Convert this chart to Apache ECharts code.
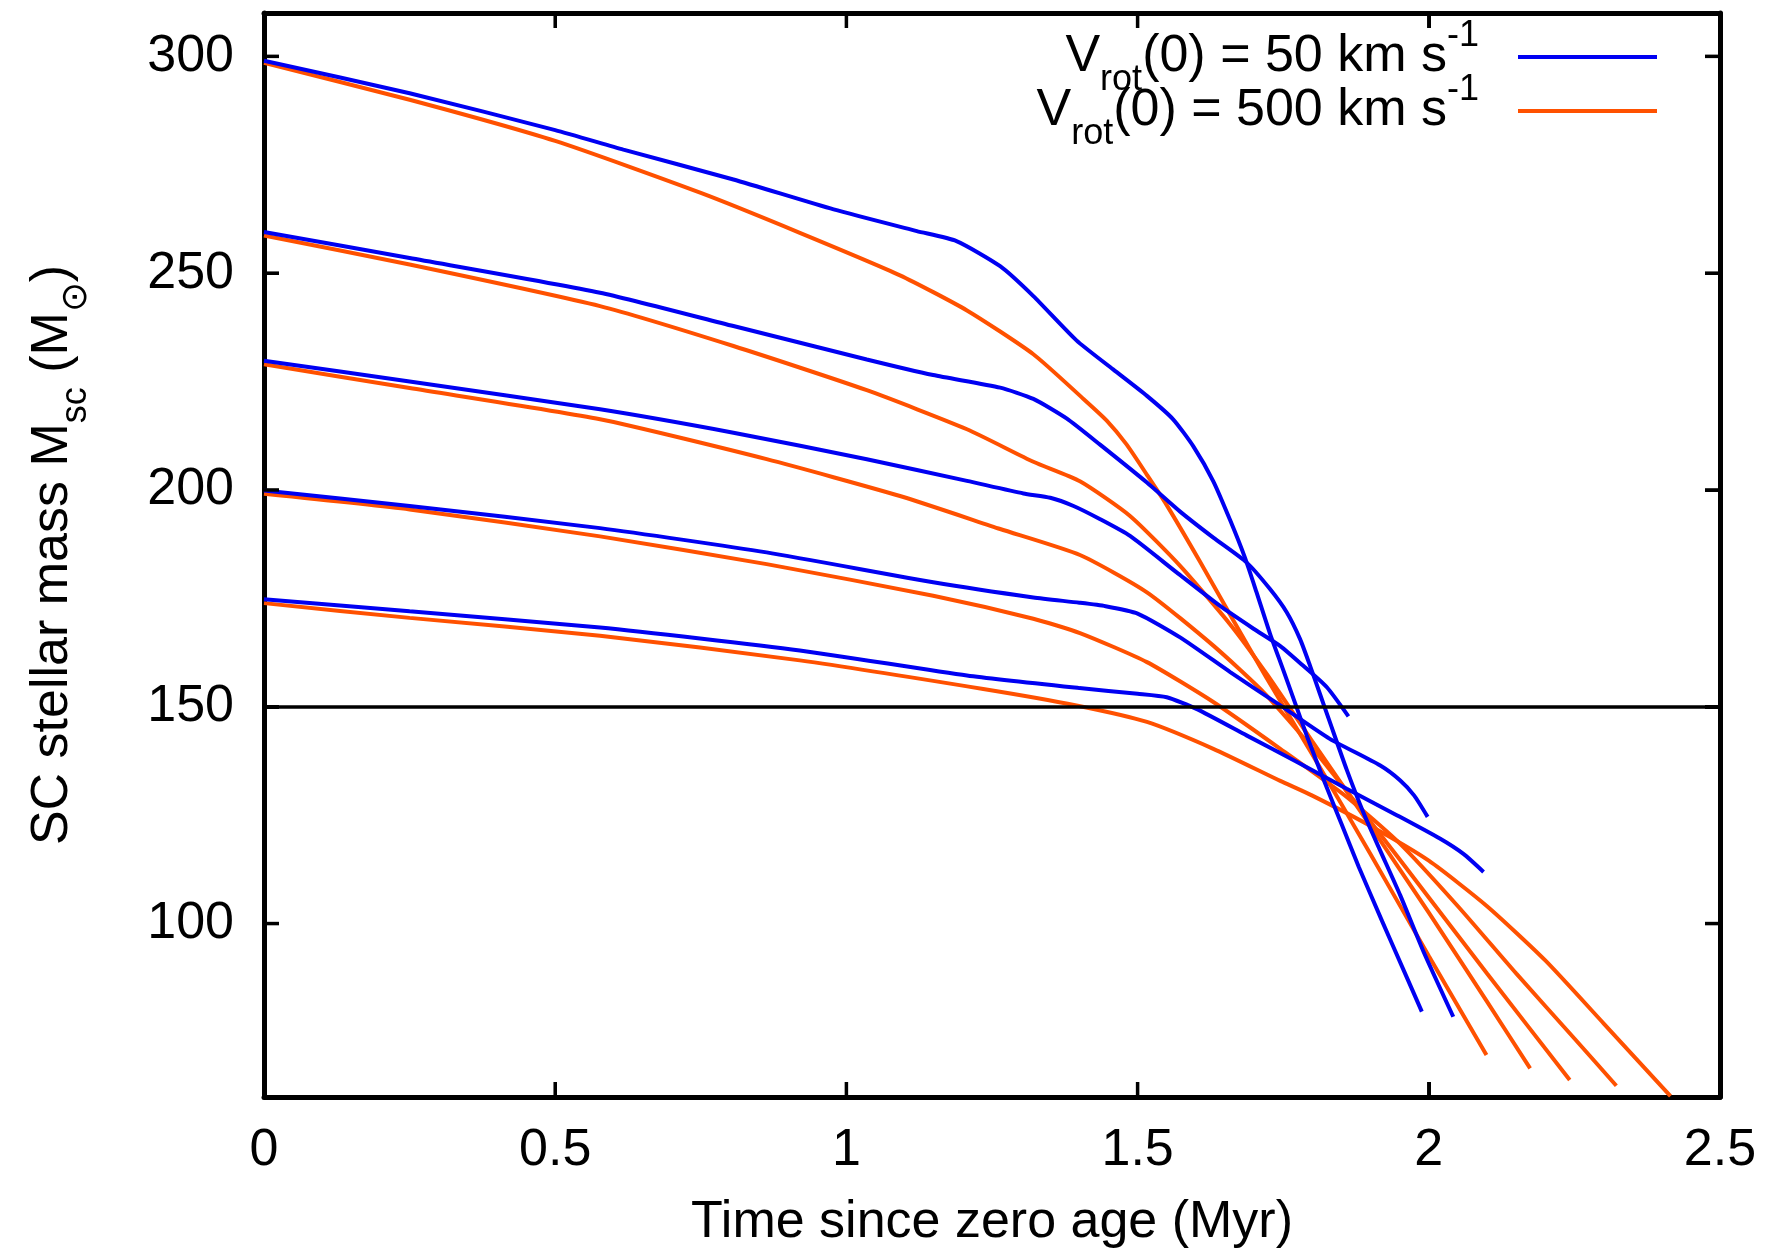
<!DOCTYPE html>
<html><head><meta charset="utf-8">
<script src="https://cdn.jsdelivr.net/npm/echarts@6/dist/echarts.min.js"></script>
<style>html,body{margin:0;padding:0;background:#fff}#c{width:1770px;height:1259px}</style>
</head><body><div id="c"></div>
<script>
// Axis ranges and tick values
const xRange = [0, 2.5];
const yRange = [60, 310];
const xTicks = [0, 0.5, 1, 1.5, 2, 2.5];
const yTicks = [100, 150, 200, 250, 300];
const limitMass = 150;

// V_rot(0) = 50 km/s  (blue) : [time (Myr), mass (Msun)]
const b300 = [[0,299],[0.25,291.5],[0.5,283],[0.617,278.5],[0.806,271.6],[0.978,264.7],[1.121,259.7],[1.189,257.4],[1.264,251.6],[1.321,244.7],[1.395,234.5],[1.458,227.8],[1.516,221.7],[1.561,216.3],[1.596,210],[1.63,202],[1.659,193],[1.684,184.5],[1.704,176.5],[1.727,167],[1.75,158.5],[1.77,151],[1.79,143.5],[1.82,133],[1.85,123],[1.88,113],[1.92,100.5],[1.956,89.5],[1.988,79.7]];
const b260 = [[0,259.5],[0.25,253.5],[0.577,245.5],[0.806,237.8],[1.035,230.1],[1.149,226.5],[1.264,223.6],[1.321,221],[1.378,216.5],[1.435,210.5],[1.516,201.7],[1.573,195],[1.63,189],[1.687,183.3],[1.727,177.2],[1.756,171.8],[1.779,165.6],[1.796,159.5],[1.813,153],[1.83,146.5],[1.859,135.5],[1.888,125.5],[1.916,117],[1.951,106.5],[1.991,93.5],[2.042,78.5]];
const b230 = [[0,229.8],[0.25,225],[0.577,218.6],[0.806,213.2],[1.035,207.1],[1.207,202.1],[1.304,199.2],[1.35,198.2],[1.39,196.3],[1.435,193.3],[1.487,189.4],[1.567,181],[1.641,173.3],[1.699,168],[1.745,164],[1.784,159.5],[1.825,154.5],[1.862,147.8]];
const b200 = [[0,199.9],[0.25,196.3],[0.577,191.2],[0.863,185.6],[1.149,178.7],[1.321,175.2],[1.4,174],[1.445,173.2],[1.5,171.5],[1.573,166],[1.659,158],[1.745,150.3],[1.83,142.6],[1.916,136.5],[1.951,133],[1.975,129.5],[1.998,124.6]];
const b175 = [[0,174.8],[0.25,172],[0.577,168.3],[0.92,163],[1.207,157.2],[1.4,154.3],[1.5,153],[1.55,152.2],[1.601,149.5],[1.687,143.4],[1.773,137.3],[1.859,131.1],[1.945,125],[2.019,119.6],[2.06,116],[2.094,111.9]];

// V_rot(0) = 500 km/s (orange)
const o300 = [[0,298.5],[0.25,290],[0.5,280.5],[0.75,268.5],[0.92,259.3],[1.092,249.5],[1.207,241.4],[1.321,231.3],[1.407,221],[1.447,216],[1.481,210.5],[1.516,203.5],[1.55,196.5],[1.607,183.5],[1.664,170],[1.722,156.5],[1.8,139],[1.9,116],[2.0,92.5],[2.099,69.7]];
const o260 = [[0,258.7],[0.25,252],[0.577,242.4],[0.806,233.2],[1.035,223],[1.207,214],[1.321,206.5],[1.401,202],[1.487,194],[1.573,182.5],[1.659,169],[1.722,157.5],[1.8,142],[1.9,122.5],[2.0,102.5],[2.1,82],[2.174,66.6]];
const o230 = [[0,229],[0.25,223.5],[0.577,216.3],[0.863,207.1],[1.092,198.6],[1.264,191],[1.401,185],[1.516,176.4],[1.63,164.1],[1.716,153.4],[1.8,140.5],[1.9,123.5],[2.0,106],[2.1,88.5],[2.242,63.9]];
const o200 = [[0,199.1],[0.25,195.5],[0.577,189.3],[0.863,182.9],[1.149,175.6],[1.321,170.3],[1.401,167],[1.516,160.3],[1.63,151.1],[1.745,140.3],[1.859,129.2],[1.95,118.5],[2.05,104],[2.15,88.5],[2.25,73.5],[2.322,62.6]];
const o175 = [[0,173.9],[0.25,170.5],[0.577,166.4],[0.92,160.7],[1.235,154.1],[1.395,150.3],[1.516,146.5],[1.63,140.3],[1.745,132.9],[1.8,129.5],[1.9,122.5],[2.0,114.5],[2.1,104],[2.2,91.5],[2.3,77],[2.415,60.2]];

const blueSeries = [b300, b260, b230, b200, b175];
const orangeSeries = [o300, o260, o230, o200, o175];

const FONT = '"Liberation Sans", Arial, Helvetica, sans-serif';
const BLUE = '#0000f2';
const ORANGE = '#ff5100';
const NAME50 = 'v50';
const NAME500 = 'v500';
const FS = 52, FSS = 36;

const rich = {
  m: {fontSize: FS, fontFamily: FONT, color: '#000', lineHeight: 66, verticalAlign: 'middle'},
  s: {fontSize: FSS, fontFamily: FONT, color: '#000', lineHeight: 36, verticalAlign: 'middle', padding: [46, 0, 0, 0]},
  p: {fontSize: FSS, fontFamily: FONT, color: '#000', lineHeight: 36, verticalAlign: 'middle', padding: [0, 34, 42, 0]}
};

function mk(name, data, color) {
  return {
    type: 'line', name: name, data: data, showSymbol: false, symbol: 'none',
    smooth: 0.2, clip: true, animation: false,
    lineStyle: {color: color, width: 4}, itemStyle: {color: color},
    emphasis: {disabled: true}
  };
}

const series = [];
orangeSeries.forEach(d => series.push(mk(NAME500, d, ORANGE)));
blueSeries.forEach(d => series.push(mk(NAME50, d, BLUE)));
series[series.length - 1].markLine = {
  silent: true, symbol: ['none', 'none'], label: {show: false}, animation: false,
  lineStyle: {color: '#000', width: 3.5, type: 'solid'},
  data: [{yAxis: limitMass}]
};

// Inward tick marks as small filled bars, one custom series per frame side
const TL = 15, TW = 3.5;
function tickSeries(name, data, dx, dy) {
  return {
    type: 'custom', name: name, data: data, clip: false, silent: true, z: 100, zlevel: 1,
    encode: {x: 0, y: 1}, animation: false,
    renderItem: function (params, api) {
      const p = api.coord([api.value(0), api.value(1)]);
      let rx, ry, rw, rh;
      if (dx !== 0) { rx = dx > 0 ? p[0] : p[0] - TL; ry = p[1] - TW / 2; rw = TL; rh = TW; }
      else { ry = dy > 0 ? p[1] : p[1] - TL; rx = p[0] - TW / 2; rw = TW; rh = TL; }
      return {type: 'rect', shape: {x: rx, y: ry, width: rw, height: rh}, style: {fill: '#000'}};
    }
  };
}
series.push(tickSeries('tickBottom', xTicks.map(v => [v, yRange[0]]), 0, -TL));
series.push(tickSeries('tickTop', xTicks.map(v => [v, yRange[1]]), 0, TL));
series.push(tickSeries('tickLeft', yTicks.map(v => [xRange[0], v]), TL, 0));
series.push(tickSeries('tickRight', yTicks.map(v => [xRange[1], v]), -TL, 0));

function axisLine() { return {show: true, onZero: false, lineStyle: {color: '#000', width: 5}}; }
function axisTick() { return {show: true, inside: true, length: TL, lineStyle: {color: '#000', width: 3}}; }

function legendFor(name, top, label) {
  return {
    data: [name], right: 113, top: top, orient: 'vertical', align: 'right',
    itemWidth: 139, itemHeight: 4, icon: 'rect', padding: 0, selectedMode: false,
    formatter: () => label,
    textStyle: {fontSize: FS, fontFamily: FONT, color: '#000', rich: rich}
  };
}

const xBase = {type: 'value', min: xRange[0], max: xRange[1], interval: 0.5, splitLine: {show: false}};
const yBase = {type: 'value', min: yRange[0], max: yRange[1], splitLine: {show: false}};

const option = {
  backgroundColor: '#fff',
  animation: false,
  grid: {left: 264, right: 50, top: 13, bottom: 162, containLabel: false},
  legend: [
    legendFor(NAME50, 16, '{m|V}{s|rot}{m|(0) = 50 km s}{p|-1}'),
    legendFor(NAME500, 70, '{m|V}{s|rot}{m|(0) = 500 km s}{p|-1}')
  ],
  xAxis: [
    Object.assign({}, xBase, {position: 'bottom', axisLine: axisLine(), axisTick: axisTick(),
     axisLabel: {fontSize: FS, fontFamily: FONT, color: '#000', margin: 28},
     name: 'Time since zero age (Myr)', nameLocation: 'middle', nameGap: 100,
     nameTextStyle: {fontSize: FS, fontFamily: FONT, color: '#000'}}),
    Object.assign({}, xBase, {position: 'top', axisLine: axisLine(), axisTick: axisTick(), axisLabel: {show: false}})
  ],
  yAxis: [
    Object.assign({}, yBase, {position: 'left', axisLine: axisLine(),
     axisTick: Object.assign(axisTick(), {customValues: yTicks}),
     axisLabel: {fontSize: FS, fontFamily: FONT, color: '#000', margin: 30, customValues: yTicks},
     name: '{m|SC stellar mass M}{s|sc}{m| (M}{s|⊙}{m|)}', nameLocation: 'middle', nameGap: 178, nameRotate: 90,
     nameTextStyle: {fontSize: FS, fontFamily: FONT, color: '#000', rich: rich}}),
    Object.assign({}, yBase, {position: 'right', axisLine: axisLine(),
     axisTick: Object.assign(axisTick(), {customValues: yTicks}), axisLabel: {show: false, customValues: yTicks}})
  ],
  series: series
};

const chart = echarts.init(document.getElementById('c'), null, {renderer: 'canvas'});
chart.setOption(option);
</script>
</body></html>
